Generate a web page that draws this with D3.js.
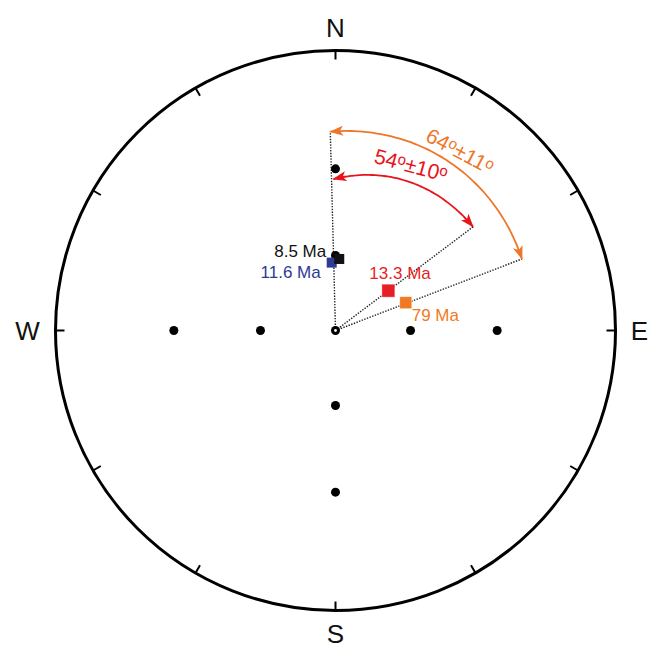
<!DOCTYPE html>
<html>
<head>
<meta charset="utf-8">
<script src="https://cdn.jsdelivr.net/npm/d3@7"></script>
<style>
  body { margin: 0; background: #fff; }
  text { font-family: "Liberation Sans", Arial, sans-serif; }
</style>
</head>
<body>
<div id="net"></div>
<script>
// stereonet data (declination / inclination, degrees)
var cardinalLabels = ["N", "E", "S", "W"];
var cardinalDec = [0, 90, 180, 270];
var tickDec = [0, 30, 60, 90, 120, 150, 180, 210, 240, 270, 300, 330];

// reference dots along the cardinal directions
var refDec = [0, 0, 90, 90, 180, 180, 270, 270];
var refInc = [60, 30, 60, 30, 60, 30, 60, 30];

// mean directions
var siteNames = ["11.6 Ma", "8.5 Ma", "13.3 Ma", "79 Ma"];
var siteDec = [356.8, 3.0, 53.0, 68.4];
var siteInc = [62.7, 61.3, 63.4, 59.8];
var siteColors = ["#2e3a93", "#111111", "#e61e25", "#f07a22"];

// dotted reference lines out of the centre
var lineDec = [358.5, 53.0, 69.0];
var lineInc = [19.2, 26.8, 19.0];

// rotation arcs
var arcLabels = ["64", "54"];
var arcErr = ["11", "10"];
var arcStartDec = [358.5, 359.2];
var arcStartInc = [19.2, 33.2];
var arcEndDec = [69.0, 53.0];
var arcEndInc = [19.0, 26.8];
var arcColors = ["#ee7628", "#e8141c"];

var width = 660, height = 649;
var cx = 335.5, cy = 330.5, R = 280;

var svg = d3.select("#net")
  .append("svg")
    .attr("width", width)
    .attr("height", height);

// stereographic (equal angle) radius: tan of half the colatitude
var rScale = d3.scaleLinear().domain([0, 1]).range([0, R]);
function rad(inc) { return rScale(Math.tan((90 - inc) * Math.PI / 360)); }
function pos(dec, inc) {
  var a = dec * Math.PI / 180, r = rad(inc);
  return [cx + r * Math.sin(a), cy - r * Math.cos(a)];
}

var defs = svg.append("defs");
arcColors.forEach(function (c, i) {
  defs.append("marker")
    .attr("id", "arrow" + i)
    .attr("viewBox", "0 0 14 10")
    .attr("refX", 13).attr("refY", 5)
    .attr("markerWidth", 14).attr("markerHeight", 10)
    .attr("markerUnits", "userSpaceOnUse")
    .attr("orient", "auto-start-reverse")
    .append("path")
      .attr("d", "M0,0 L14,5 L0,10 L3.5,5 Z")
      .attr("fill", c);
});

// outer circle
svg.append("circle")
  .attr("cx", cx).attr("cy", cy).attr("r", R)
  .attr("fill", "none").attr("stroke", "#000").attr("stroke-width", 3);

// ticks every 30 degrees
svg.append("g").selectAll("line")
  .data(tickDec)
  .join("line")
    .attr("x1", function (d) { return cx + R * Math.sin(d * Math.PI / 180); })
    .attr("y1", function (d) { return cy - R * Math.cos(d * Math.PI / 180); })
    .attr("x2", function (d) { return cx + (R - 9) * Math.sin(d * Math.PI / 180); })
    .attr("y2", function (d) { return cy - (R - 9) * Math.cos(d * Math.PI / 180); })
    .attr("stroke", "#000").attr("stroke-width", 2);

// N E S W
var cardOffset = [23, 24, 23, 28];
svg.append("g").selectAll("text")
  .data(cardinalLabels)
  .join("text")
    .attr("x", function (d, i) { return cx + (R + cardOffset[i]) * Math.sin(cardinalDec[i] * Math.PI / 180); })
    .attr("y", function (d, i) { return cy - (R + cardOffset[i]) * Math.cos(cardinalDec[i] * Math.PI / 180); })
    .attr("dy", "0.36em")
    .attr("text-anchor", "middle")
    .attr("font-size", 26)
    .attr("fill", "#111")
    .text(function (d) { return d; });

// dotted lines
svg.append("g").selectAll("line")
  .data(lineDec)
  .join("line")
    .attr("x1", cx).attr("y1", cy)
    .attr("x2", function (d, i) { return pos(d, lineInc[i])[0]; })
    .attr("y2", function (d, i) { return pos(d, lineInc[i])[1]; })
    .attr("stroke", "#222").attr("stroke-width", 1.4)
    .attr("stroke-dasharray", "1.4,1.4");

// arcs with arrows at both ends, bulging outward a little
var bulge = [4, 4];
arcStartDec.forEach(function (d0, i) {
  var d1 = arcEndDec[i];
  var span = ((d1 - d0) + 360) % 360;
  var r0 = rad(arcStartInc[i]), r1 = rad(arcEndInc[i]);
  var pts = d3.range(0, 1.0001, 0.02).map(function (t) {
    var a = (d0 + span * t) * Math.PI / 180;
    var r = r0 + (r1 - r0) * t + bulge[i] * Math.sin(Math.PI * t);
    return [cx + r * Math.sin(a), cy - r * Math.cos(a)];
  });
  svg.append("path")
    .attr("d", d3.line().curve(d3.curveBasis)(pts))
    .attr("fill", "none")
    .attr("stroke", arcColors[i])
    .attr("stroke-width", 1.8)
    .attr("marker-start", "url(#arrow" + i + ")")
    .attr("marker-end", "url(#arrow" + i + ")");
});

// arc labels
var arcLabelPos = [[460, 151], [411, 165]];
var arcLabelRot = [28, 15];
arcLabels.forEach(function (lab, i) {
  var t = svg.append("text")
    .attr("transform", "translate(" + arcLabelPos[i] + ") rotate(" + arcLabelRot[i] + ")")
    .attr("text-anchor", "middle")
    .attr("dy", "0.35em")
    .attr("font-size", 21)
    .attr("fill", arcColors[i]);
  t.append("tspan").text(lab);
  t.append("tspan").attr("font-size", 15).attr("dy", "-0.35em").text("o");
  t.append("tspan").attr("dy", "0.26em").text("±" + arcErr[i]);
  t.append("tspan").attr("font-size", 15).attr("dy", "-0.35em").text("o");
});

// reference dots
svg.append("g").selectAll("circle")
  .data(refDec)
  .join("circle")
    .attr("cx", function (d, i) { return pos(d, refInc[i])[0]; })
    .attr("cy", function (d, i) { return pos(d, refInc[i])[1]; })
    .attr("r", 4.5)
    .attr("fill", "#000");

// centre point (vertical)
svg.append("circle").attr("cx", pos(0, 90)[0]).attr("cy", pos(0, 90)[1])
  .attr("r", 4.5).attr("fill", "#000");
svg.append("circle").attr("cx", pos(0, 90)[0]).attr("cy", pos(0, 90)[1])
  .attr("r", 1.4).attr("fill", "#fff");

// site squares
var sqSize = [10, 10, 13, 12];
svg.append("g").selectAll("rect")
  .data(siteDec)
  .join("rect")
    .attr("x", function (d, i) { return pos(d, siteInc[i])[0] - sqSize[i] / 2; })
    .attr("y", function (d, i) { return pos(d, siteInc[i])[1] - sqSize[i] / 2; })
    .attr("width", function (d, i) { return sqSize[i]; })
    .attr("height", function (d, i) { return sqSize[i]; })
    .attr("fill", function (d, i) { return siteColors[i]; })
    .attr("stroke", function (d, i) { return i > 1 ? "#fff" : "none"; })
    .attr("stroke-opacity", 0.5)
    .attr("stroke-width", 0.8);

// site labels
var labelDx = [-11, -13, -19, 6];
var labelDy = [15, -2, -12, 18];
var labelAnchor = ["end", "end", "start", "start"];
svg.append("g").selectAll("text")
  .data(siteNames)
  .join("text")
    .attr("x", function (d, i) { return pos(siteDec[i], siteInc[i])[0] + labelDx[i]; })
    .attr("y", function (d, i) { return pos(siteDec[i], siteInc[i])[1] + labelDy[i]; })
    .attr("text-anchor", function (d, i) { return labelAnchor[i]; })
    .attr("font-size", 17)
    .attr("fill", function (d, i) { return siteColors[i]; })
    .text(function (d) { return d; });
</script>
</body>
</html>
